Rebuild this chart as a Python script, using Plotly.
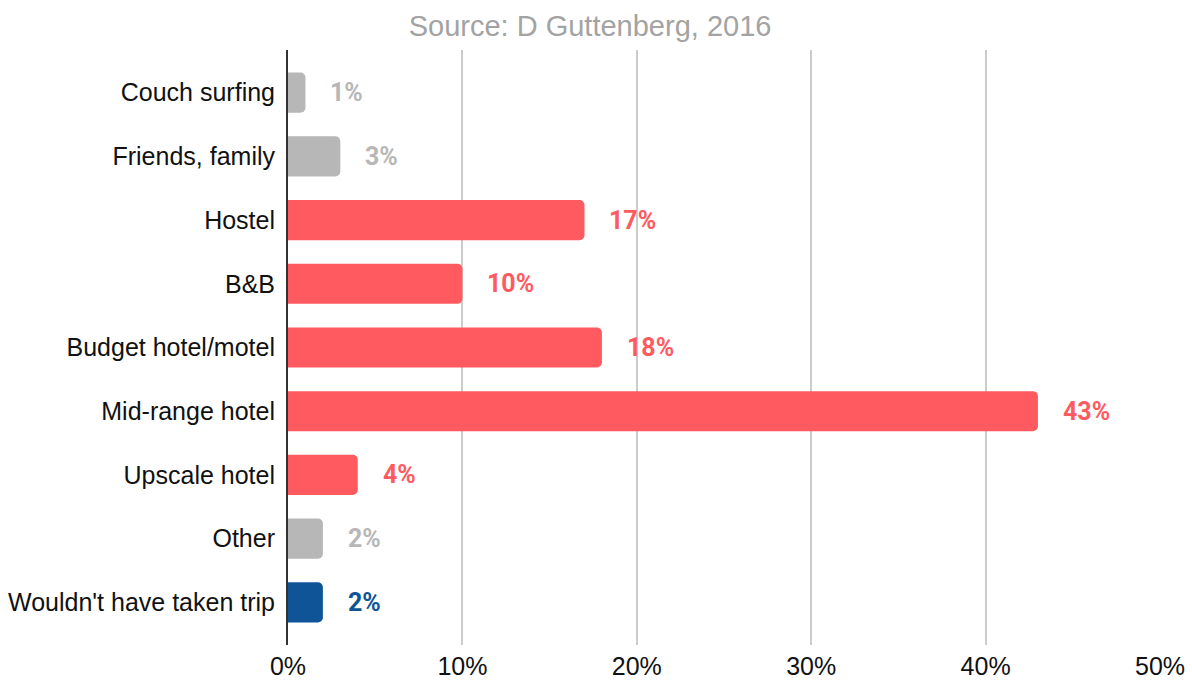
import plotly.graph_objects as go

# Where travellers would have stayed otherwise (share of respondents, %)
categories = [
    "Couch surfing",
    "Friends, family",
    "Hostel",
    "B&B",
    "Budget hotel/motel",
    "Mid-range hotel",
    "Upscale hotel",
    "Other",
    "Wouldn't have taken trip",
]
shares = [1, 3, 17, 10, 18, 43, 4, 2, 2]
groups = ["other", "other", "lodging", "lodging", "lodging", "lodging", "lodging", "other", "none"]

x_ticks = [0, 10, 20, 30, 40, 50]
x_tick_labels = ["0%", "10%", "20%", "30%", "40%", "50%"]

palette = {"other": "#b7b7b7", "lodging": "#ff5a5f", "none": "#0f5496"}
colors = [palette[g] for g in groups]

fig = go.Figure()
fig.add_trace(go.Bar(
    x=shares,
    y=categories,
    orientation="h",
    marker=dict(color=colors, line=dict(width=0), cornerradius=5),
    width=0.63,
    hoverinfo="skip",
))

for cat, val, col in zip(categories, shares, colors):
    fig.add_annotation(
        x=val, y=cat, text=f"<b>{val}%</b>",
        xanchor="left", xshift=23, showarrow=False,
        font=dict(family="Roboto, Arial, sans-serif", size=25, color=col),
    )

fig.update_layout(
    width=1192, height=685,
    margin=dict(l=288, r=32, t=50, b=40),
    paper_bgcolor="white", plot_bgcolor="white",
    showlegend=False,
    title=dict(
        text="Source: D Guttenberg, 2016",
        x=0.495, xanchor="center", y=0.962, yanchor="middle",
        font=dict(family="Liberation Sans, Arial, sans-serif", size=29, color="#a3a3a3"),
    ),
    font=dict(family="Liberation Sans, Arial, sans-serif", size=25, color="#000000"),
)

fig.update_xaxes(
    range=[0, 50], automargin=False,
    tickvals=x_ticks, ticktext=x_tick_labels,
    showgrid=True, gridcolor="#cccccc", gridwidth=2,
    zeroline=False, showline=False, ticks="",
    ticklabelstandoff=4,
    tickfont=dict(size=25, color="#111111"),
)
fig.update_yaxes(
    categoryorder="array", categoryarray=categories,
    range=[8.67, -0.67], automargin=False,
    showgrid=False, zeroline=False,
    showline=True, linecolor="#333333", linewidth=2,
    ticks="", ticklabelstandoff=6,
    tickfont=dict(size=25, color="#111111"),
)

fig.write_html("out.html")
